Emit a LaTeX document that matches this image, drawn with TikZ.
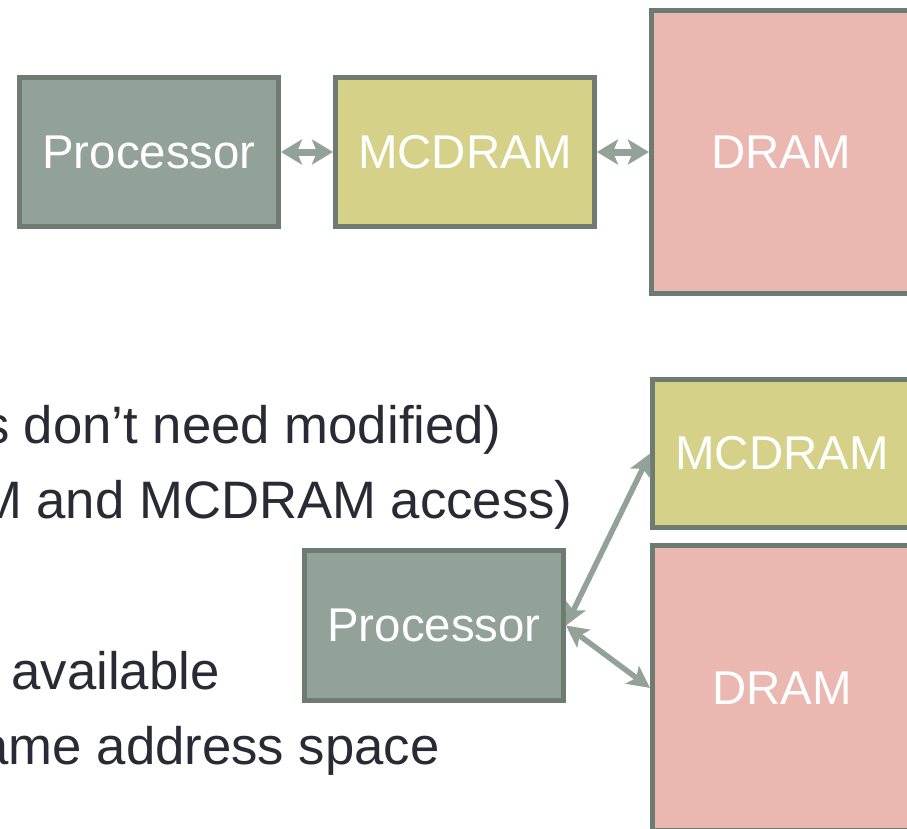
\documentclass[tikz,border=0pt]{standalone}
\usepackage{fontspec}
\setmainfont{Liberation Sans}
\usepackage{xcolor}
\usetikzlibrary{arrows.meta, positioning}

\definecolor{procgreen}{HTML}{93A299}
\definecolor{mcyellow}{HTML}{D6D188}
\definecolor{dramred}{HTML}{EAB8B0}
\definecolor{edgegray}{HTML}{6E7B71}
\definecolor{textdark}{HTML}{2A2A35}

\tikzset{
  membox/.style={draw=edgegray, line width=0.1cm, minimum width=5.18cm, inner sep=0pt,
    text=white, font=\fontsize{27}{32}\selectfont},
  bigarrow/.style={draw=procgreen, line width=0.14cm,
    {Stealth[length=0.42cm, width=0.5cm, inset=0.1cm]}-{Stealth[length=0.42cm, width=0.5cm, inset=0.1cm]}},
  thinarrow/.style={draw=procgreen, line width=0.11cm,
    {Stealth[length=0.44cm, width=0.44cm, inset=0.1cm]}-{Stealth[length=0.44cm, width=0.44cm, inset=0.1cm]}},
  bodyline/.style={text=textdark, font=\fontsize{30}{36}\selectfont, anchor=base east, inner sep=0pt}
}

\begin{document}
\begin{tikzpicture}[x=0.02cm, y=-0.02cm]
\useasboundingbox (0,0) rectangle (907,829);
\clip (0,0) rectangle (907,829);

\node[membox, fill=procgreen, minimum height=2.98cm] (proc) at (149,152) {Processor};
\node[membox, fill=mcyellow, minimum height=2.98cm, right=1.04cm of proc] (mc) {MCDRAM};
\node[membox, fill=dramred, minimum height=5.68cm, right=1.04cm of mc] (dram) {DRAM};
\draw[bigarrow] (proc.east) -- (mc.west);
\draw[bigarrow] (mc.east) -- (dram.west);

\node[bodyline] (line1) at (502,443) {s don’t need modified)};
\node[bodyline] (line2) at (573,518) {M and MCDRAM access)};
\node[bodyline] (line3) at (220,689) {available};
\node[bodyline] (line4) at (440,764) {ame address space};

\node[membox, fill=mcyellow, minimum height=2.96cm] (mc2) at (782,453.5) {MCDRAM};
\node[membox, fill=dramred, minimum height=5.7cm, below=0.26cm of mc2] (dram2) {DRAM};
\node[membox, fill=procgreen, minimum height=3cm] (proc2) at (434,625.5) {Processor};
\draw[thinarrow] (proc2.east) -- (mc2.west);
\draw[thinarrow] (proc2.east) -- (dram2.west);
\end{tikzpicture}
\end{document}
